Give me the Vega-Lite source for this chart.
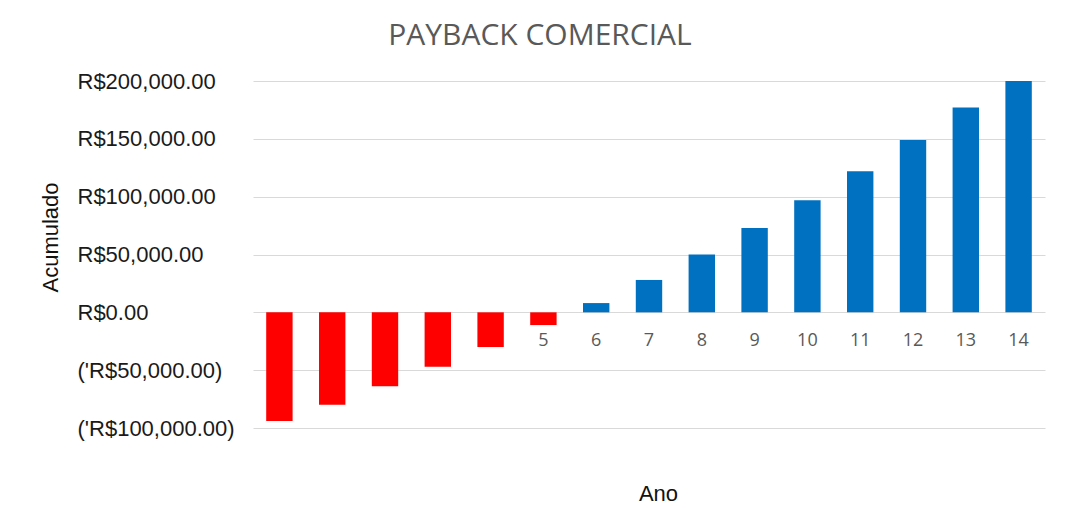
{
  "$schema": "https://vega.github.io/schema/vega-lite/v6.json",
  "autosize": {"type": "none"},
  "width": 792,
  "height": 347,
  "padding": {"left": 253, "top": 81, "right": 27, "bottom": 81},
  "background": "white",
  "title": {
    "text": "PAYBACK COMERCIAL",
    "font": "Open Sans",
    "fontSize": 30,
    "fontWeight": "normal",
    "color": "#595959",
    "anchor": "middle",
    "baseline": "alphabetic",
    "offset": 33,
    "dx": -109,
    "dy": 38
  },
  "data": {
    "values": [
      {"ano": 0, "acumulado": -94000},
      {"ano": 1, "acumulado": -80000},
      {"ano": 2, "acumulado": -64000},
      {"ano": 3, "acumulado": -47000},
      {"ano": 4, "acumulado": -30000},
      {"ano": 5, "acumulado": -11000},
      {"ano": 6, "acumulado": 8000},
      {"ano": 7, "acumulado": 28000},
      {"ano": 8, "acumulado": 50000},
      {"ano": 9, "acumulado": 73000},
      {"ano": 10, "acumulado": 97000},
      {"ano": 11, "acumulado": 122000},
      {"ano": 12, "acumulado": 149000},
      {"ano": 13, "acumulado": 177000},
      {"ano": 14, "acumulado": 200000}
    ]
  },
  "mark": {"type": "bar"},
  "encoding": {
    "x": {
      "field": "ano",
      "type": "ordinal",
      "sort": null,
      "scale": {"paddingInner": 0.5, "paddingOuter": 0.25},
      "axis": {
        "title": "Ano",
        "titleFont": "Liberation Sans",
        "titleFontSize": 22,
        "titleFontWeight": "normal",
        "titleColor": "#111111",
        "titleX": 405,
        "titleY": 181,
        "titleBaseline": "middle",
        "titleAlign": "center",
        "offset": -116,
        "domain": false,
        "ticks": false,
        "labelAngle": 0,
        "labelFont": "Open Sans",
        "labelFontSize": 18,
        "labelColor": "#595959",
        "labelBaseline": "middle",
        "labelPadding": 28,
        "zindex": 0
      }
    },
    "y": {
      "field": "acumulado",
      "type": "quantitative",
      "scale": {"domain": [-100000, 200000], "nice": false, "zero": true},
      "axis": {
        "values": [-100000, -50000, 0, 50000, 100000, 150000, 200000],
        "labelExpr": "datum.value >= 0 ? 'R$' + format(datum.value, ',.2f') : \"('R$\" + format(-datum.value, ',.2f') + ')'",
        "labelAlign": "left",
        "labelBaseline": "middle",
        "labelPadding": 176,
        "labelFont": "Liberation Sans",
        "labelFontSize": 22,
        "labelColor": "#1a1a1a",
        "labelBound": false,
        "domain": false,
        "ticks": false,
        "grid": true,
        "gridColor": "#d9d9d9",
        "gridWidth": 1,
        "title": "Acumulado",
        "titleFont": "Liberation Sans",
        "titleFontSize": 22,
        "titleFontWeight": "normal",
        "titleColor": "#111111",
        "titleAngle": -90,
        "titleX": -203,
        "titleY": 156,
        "titleAlign": "center",
        "titleBaseline": "middle"
      }
    },
    "color": {
      "condition": {"test": "datum.acumulado < 0", "value": "#ff0000"},
      "value": "#0070c0"
    }
  },
  "config": {
    "view": {"stroke": null}
  }
}
